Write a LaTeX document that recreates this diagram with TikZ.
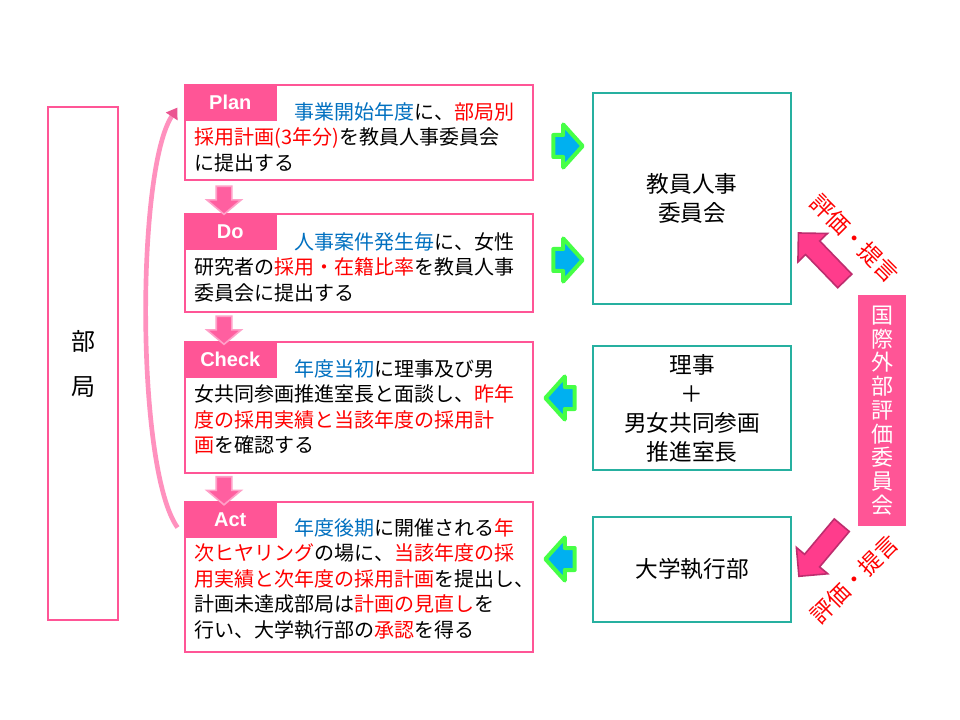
\documentclass[tikz,border=0pt]{standalone}
\usepackage{fontspec}
\setmainfont{Noto Sans CJK JP}
\newfontfamily\tagfont{Liberation Sans}
\usetikzlibrary{positioning,shapes.arrows,arrows.meta}

\definecolor{pdcapink}{RGB}{255,85,150}
\definecolor{downpink}{RGB}{255,95,160}
\definecolor{downpinkline}{RGB}{255,160,200}
\definecolor{bigpink}{RGB}{255,60,140}
\definecolor{bigpinkline}{RGB}{190,45,110}
\definecolor{cyclepink}{RGB}{255,145,190}
\definecolor{cycletip}{RGB}{235,85,145}
\definecolor{boxteal}{RGB}{38,176,160}
\definecolor{txtblue}{RGB}{0,112,192}
\definecolor{txtred}{RGB}{255,0,0}
\definecolor{arrowblue}{RGB}{0,176,240}
\definecolor{arrowgreen}{RGB}{70,255,70}

\newcommand{\bluetxt}[1]{\textcolor{txtblue}{#1}}
\newcommand{\redtxt}[1]{\textcolor{txtred}{#1}}
\newcommand{\firstline}{\rule{0pt}{14pt}\hspace*{75pt}}

\tikzset{
  stepbox/.style={draw=pdcapink, line width=2.2pt, minimum width=261pt, inner sep=0pt},
  steptag/.style={fill=pdcapink, anchor=north west, minimum width=69.75pt, minimum height=27.75pt,
    inner sep=0pt, text=white, font=\tagfont\bfseries\fontsize{15}{18}\selectfont},
  steptext/.style={anchor=north west, inner sep=0pt, align=left, font=\fontsize{15}{19.1}\selectfont},
  unitbox/.style={draw=boxteal, line width=2.2pt, minimum width=148.5pt, inner sep=0pt,
    align=center, font=\fontsize{17}{21.75}\selectfont},
  deptbox/.style={draw=pdcapink, line width=2.2pt, minimum width=52.5pt, minimum height=384.75pt,
    inner sep=0pt, align=center, font=\fontsize{18}{33.75}\selectfont},
  orgbox/.style={fill=pdcapink, minimum width=36pt, minimum height=173.25pt, inner sep=0pt,
    align=center, text=white, font=\fontsize{16.5}{17.8}\selectfont},
  evaltext/.style={text=txtred, inner sep=0pt, font=\fontsize{17}{20}\selectfont},
  bluearrow/.style={single arrow, fill=arrowblue, draw=arrowgreen, line width=3pt, line join=round,
    inner xsep=0pt, inner ysep=6.75pt, minimum height=22pt,
    single arrow head extend=7.9pt, single arrow tip angle=96},
  downarrow/.style={single arrow, fill=downpink, draw=downpinkline, line width=1.2pt,
    inner xsep=0pt, inner ysep=5.25pt, minimum height=21pt,
    single arrow head extend=7pt, single arrow tip angle=100, rotate=-90},
  bigarrow/.style={single arrow, fill=bigpink, draw=bigpinkline, line width=1.2pt,
    inner xsep=0pt, inner ysep=6.75pt, minimum height=50pt,
    single arrow head extend=8pt, single arrow tip angle=90},
  cyclearrow/.style={draw=cyclepink, line width=3.5pt, -{Triangle[length=8pt,width=10pt,fill=cycletip,color=cycletip]}}
}

\begin{document}
\begin{tikzpicture}[x=0.75pt, y=-0.75pt]
  \fill[white] (0,0) rectangle (960,720);
  \useasboundingbox (0,0) rectangle (960,720);

  % department
  \node[deptbox] (dept) at (83,363.5) {部\\局};

  % PDCA steps
  \node[stepbox, minimum height=71.25pt] (plan) at (359,132.5) {};
  \node[stepbox, minimum height=73.5pt] (do) at (359,263) {};
  \node[stepbox, minimum height=98.25pt] (check) at (359,407.5) {};
  \node[stepbox, minimum height=112.5pt] (act) at (359,577) {};

  \node[steptag] (plantag) at (plan.north west) {Plan};
  \node[steptag] (dotag) at (do.north west) {Do};
  \node[steptag] (checktag) at (check.north west) {Check};
  \node[steptag] (acttag) at (act.north west) {Act};

  \node[steptext] (plantxt) at ([shift={(11,17)}]plan.north west)
    {\firstline\bluetxt{事業開始年度}に、\redtxt{部局別}\\
     \redtxt{採用計画(3年分)}を教員人事委員会\\
     に提出する};
  \node[steptext] (dotxt) at ([shift={(11,18)}]do.north west)
    {\firstline\bluetxt{人事案件発生毎}に、女性\\
     研究者の\redtxt{採用・在籍比率}を教員人事\\
     委員会に提出する};
  \node[steptext] (checktxt) at ([shift={(11,17)}]check.north west)
    {\firstline\bluetxt{年度当初}に理事及び男\\
     女共同参画推進室長と面談し、\redtxt{昨年}\\
     \redtxt{度の採用実績と当該年度の採用計}\\
     \redtxt{画}を確認する};
  \node[steptext] (acttxt) at ([shift={(11,16)}]act.north west)
    {\firstline\bluetxt{年度後期}に開催される\redtxt{年}\\
     \redtxt{次ヒヤリング}の場に、\redtxt{当該年度の採}\\
     \redtxt{用実績と次年度の採用計画}を提出し、\\
     計画未達成部局は\redtxt{計画の見直し}を\\
     行い、大学執行部の\redtxt{承認}を得る};

  \node[downarrow] (plan2do) at (224,197) {};
  \node[downarrow] (do2check) at (224,327) {};
  \node[downarrow] (check2act) at (224,487.5) {};

  % cycle back
  \coordinate (cycstart) at ([shift={(-6,27)}]act.north west);
  \coordinate (cycend) at ([shift={(-6,24)}]plan.north west);
  \draw[cyclearrow] (cycstart) .. controls (136,470) and (136,170) .. (cycend);

  % committees
  \node[unitbox, minimum height=158.25pt] (ctee) at (692,198.5) {教員人事\\委員会};
  \node[unitbox, minimum height=93pt] (riji) at (692,408) {理事\\＋\\男女共同参画\\推進室長};
  \node[unitbox, minimum height=78.75pt] (exec) at (692,569.5) {大学執行部};

  \node[bluearrow] (plan2ctee) at (563,146) {};
  \node[bluearrow] (do2ctee) at (563,260) {};
  \node[bluearrow, rotate=180] (riji2check) at (565,398) {};
  \node[bluearrow, rotate=180] (exec2act) at (565,559) {};

  % external review
  \node[orgbox] (org) at (882,410.5) {国\\際\\外\\部\\評\\価\\委\\員\\会};
  \node[bigarrow, rotate=134] (org2ctee) at (825,260.5) {};
  \node[bigarrow, rotate=230] (org2exec) at (823.5,547) {};
  \node[evaltext, rotate=-45] (evalup) at (855,238) {評価・提言};
  \node[evaltext, rotate=45] (evaldown) at (854,579) {評価・提言};
\end{tikzpicture}
\end{document}
